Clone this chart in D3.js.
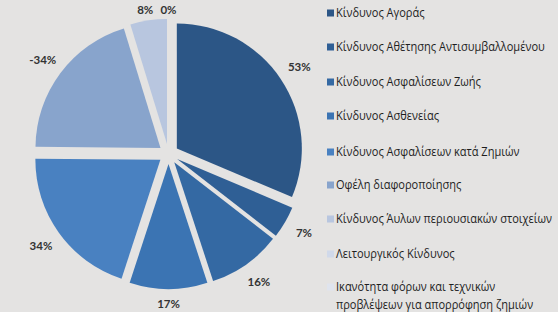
<!DOCTYPE html>
<html><head><meta charset="utf-8">
<script src="https://cdn.jsdelivr.net/npm/d3@7"></script>
<style>html,body{margin:0;padding:0;background:#e4e3e2;}svg{display:block;}</style>
</head><body>
<svg id="c" width="558" height="312"></svg>
<script>
const categories = [
  "Κίνδυνος Αγοράς",
  "Κίνδυνος Αθέτησης Αντισυμβαλλομένου",
  "Κίνδυνος Ασφαλίσεων Ζωής",
  "Κίνδυνος Ασθενείας",
  "Κίνδυνος Ασφαλίσεων κατά Ζημιών",
  "Οφέλη διαφοροποίησης",
  "Κίνδυνος Άυλων περιουσιακών στοιχείων",
  "Λειτουργικός Κίνδυνος",
  "Ικανότητα φόρων και τεχνικών\nπροβλέψεων για απορρόφηση ζημιών"
];
const values = [53, 7, 16, 17, 34, -34, 8, 0, 0];
const colors = ["#2c5686","#2f5f95","#3469a3","#3b74b3","#4981c1","#88a4cc","#b8c6df","#d0d9ea","#dfe4ee"];

const svg = d3.select("#c");
const W = 558, H = 312;
svg.append("rect").attr("width", W).attr("height", H).attr("fill", "#e4e3e2");

const cx = 168.5, cy = 154, R = 125, explode = 10, labelR = 157;
const pieData = categories.slice(0, 8).map((c, i) => ({c, v: values[i], col: colors[i]}));
const pie = d3.pie().sort(null).value(d => Math.abs(d.v));
const arcs = pie(pieData);
const arc = d3.arc().innerRadius(0).outerRadius(R);
const g = svg.append("g").attr("transform", `translate(${cx},${cy})`);

arcs.forEach(a => {
  const mid = (a.startAngle + a.endAngle) / 2;
  const dx = Math.sin(mid) * explode, dy = -Math.cos(mid) * explode;
  if (a.endAngle - a.startAngle > 0) {
    g.append("path").attr("d", arc(a)).attr("fill", a.data.col)
      .attr("transform", `translate(${dx},${dy})`);
  }
  let lx = Math.sin(mid) * labelR, ly = -Math.cos(mid) * labelR;
  ly = Math.max(10 - cy, Math.min(304 - cy, ly));
  g.append("text").attr("x", lx).attr("y", ly).attr("dy", "0.35em")
    .attr("text-anchor", "middle")
    .attr("font-family", "Lato, sans-serif").attr("font-size", 11.5)
    .attr("font-weight", 700).attr("fill", "#333")
    .text(a.data.v + "%");
});

// legend
const legY = [13, 47, 82, 116, 152, 185, 219, 254, 287];
const lg = svg.append("g");
items = categories.map((c, i) => ({c, col: colors[i], y: legY[i]}));
items.forEach(it => {
  lg.append("rect").attr("x", 327).attr("y", it.y - 3.5).attr("width", 7).attr("height", 7).attr("fill", it.col);
});
const tg = lg.append("g");
const texts = [];
items.forEach(it => {
  const t = tg.append("text").attr("x", 0).attr("y", it.y)
    .attr("font-family", "'Open Sans', sans-serif").attr("fill", "#1e1e1e").attr("font-size", 12.5);
  it.c.split("\n").forEach((line, k) => {
    t.append("tspan").attr("x", 0).attr("dy", k === 0 ? "0.35em" : "18px").text(line);
  });
  texts.push(t);
});
// horizontally condense so the widest label matches the reference width
const wid = texts[1].node().getComputedTextLength();
const sx = 209 / wid;
tg.attr("transform", `translate(336,0) scale(${sx},1)`);
</script>
</body></html>
